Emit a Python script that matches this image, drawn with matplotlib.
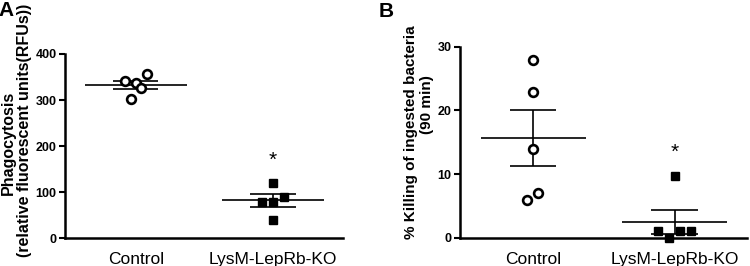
import numpy as np
import matplotlib
matplotlib.use("Agg")
import matplotlib.pyplot as plt

plt.rcParams['font.family'] = ['Liberation Sans', 'DejaVu Sans']

groups = ["Control", "LysM-LepRb-KO"]

# panel A: phagocytosis (RFUs)
phago_ctrl = [341, 337, 356, 326, 302]
phago_ko = [120, 78, 78, 89, 39]
phago_mean = [333, 82]
phago_sem = [8.5, 13.5]
phago_ctrl_dx = [-0.08, 0.0, 0.08, 0.036, -0.036]
phago_ko_dx = [0.0, -0.08, 0.0, 0.08, 0.0]

# panel B: % killing of ingested bacteria (90 min)
kill_ctrl = [27.9, 22.9, 13.9, 7.1, 5.9]
kill_ko = [9.7, 1.0, 1.0, 1.0, 0.0]
kill_mean = [15.7, 2.45]
kill_sem = [4.4, 1.85]
kill_ctrl_dx = [0.0, 0.0, 0.0, 0.035, -0.04]
kill_ko_dx = [0.0, -0.12, 0.035, 0.115, -0.04]

star_a = 170
star_b = 13.4

fig = plt.figure(figsize=(7.5, 2.66), dpi=100)
axA = fig.add_axes([0.0867, 0.105, 0.3706, 0.692])
axB = fig.add_axes([0.6133, 0.106, 0.3827, 0.718])


def draw_panel(ax, ctrl, ko, ctrl_dx, ko_dx, mean, sem, yticks, star):
    x = np.arange(len(groups))
    # mean lines and sem bars
    ax.hlines(mean, x - 0.37, x + 0.37, color='black', lw=1.2, zorder=2)
    lo = np.array(mean) - np.array(sem)
    hi = np.array(mean) + np.array(sem)
    ax.hlines(lo, x - 0.165, x + 0.165, color='black', lw=1.2, zorder=2)
    ax.hlines(hi, x - 0.165, x + 0.165, color='black', lw=1.2, zorder=2)
    ax.vlines(x, lo, hi, color='black', lw=1.2, zorder=2)
    ax.plot(x[0] + np.array(ctrl_dx), ctrl, 'o', ms=6.3, mfc='white', mec='black',
            mew=1.9, zorder=3, clip_on=False)
    ax.plot(x[1] + np.array(ko_dx), ko, 's', ms=5.2, mfc='black', mec='black',
            zorder=3, clip_on=False)
    ax.text(x[1], star, '*', ha='center', va='center', fontsize=15)

    ax.set_xlim(-0.517, 1.511)
    ax.set_ylim(yticks[0], yticks[-1])
    ax.set_yticks(yticks)
    ax.set_xticks(x)
    ax.set_xticklabels(groups, fontsize=12.5)
    for lab in ax.get_yticklabels():
        lab.set_fontweight('bold')
        lab.set_fontsize(9)
    ax.tick_params(axis='x', length=0, pad=10)
    ax.tick_params(axis='y', length=4, width=1.5, direction='out', pad=2)
    for s in ['top', 'right']:
        ax.spines[s].set_visible(False)
    for s in ['left', 'bottom']:
        ax.spines[s].set_linewidth(1.8)


draw_panel(axA, phago_ctrl, phago_ko, phago_ctrl_dx, phago_ko_dx,
           phago_mean, phago_sem, [0, 100, 200, 300, 400], star_a)
draw_panel(axB, kill_ctrl, kill_ko, kill_ctrl_dx, kill_ko_dx,
           kill_mean, kill_sem, [0, 10, 20, 30], star_b)

axA.text(-0.205, 0.516, "Phagocytosis", transform=axA.transAxes, rotation=90,
         ha='center', va='center', fontsize=11.5, fontweight='bold')
axA.text(-0.147, 0.587, "(relative fluorescent units(RFUs))", transform=axA.transAxes,
         rotation=90, ha='center', va='center', fontsize=11.5, fontweight='bold')
axB.text(-0.169, 0.551, "% Killing of ingested bacteria", transform=axB.transAxes,
         rotation=90, ha='center', va='center', fontsize=11, fontweight='bold')
axB.text(-0.115, 0.70, "(90 min)", transform=axB.transAxes, rotation=90,
         ha='center', va='center', fontsize=11, fontweight='bold')

fig.text(-0.002, 0.995, "A", ha='left', va='top', fontsize=15, fontweight='bold')
fig.text(0.505, 0.993, "B", ha='left', va='top', fontsize=15, fontweight='bold')

fig.savefig("out.png", dpi=100)
